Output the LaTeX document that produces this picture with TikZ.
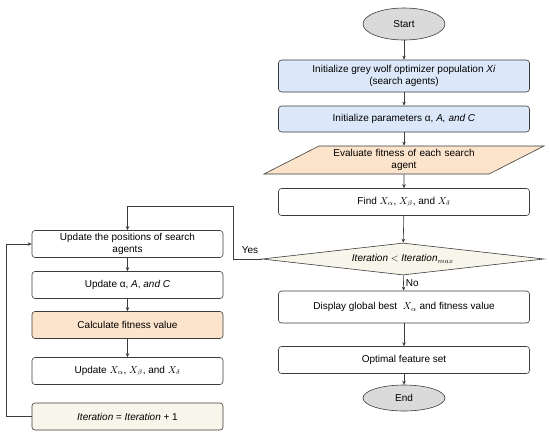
\documentclass[tikz,border=0pt]{standalone}
\usepackage{fontspec}
\setmainfont{Liberation Sans}
\usetikzlibrary{shapes.geometric,arrows.meta}

\definecolor{linha}{HTML}{3C3C3C}
\definecolor{azul}{HTML}{DCE8F9}
\definecolor{pessego}{HTML}{FCE3CB}
\definecolor{creme}{HTML}{F8F5EA}
\definecolor{cinza}{HTML}{DADADA}

\tikzset{
  caixa/.style={draw=linha, line width=0.6pt, rounded corners=3pt, align=center,
    minimum width=251pt, minimum height=27pt, inner sep=2pt},
  caixab/.style={caixa, minimum width=191pt},
  terminal/.style={ellipse, draw=linha, line width=0.6pt, fill=cinza,
    minimum width=82pt, minimum height=28pt, inner sep=0pt},
  seta/.style={draw=linha, line width=0.6pt, -{Stealth[length=4pt,width=3.5pt]}}
}

\begin{document}
\begin{tikzpicture}[x=1pt, y=-1pt, font=\fontsize{10}{12}\selectfont]
\useasboundingbox (0,0) rectangle (550,440);

% Coluna principal
\node[terminal, minimum height=32pt] (inicio) at (404,24) {Start};
\node[caixa, fill=azul, minimum height=32pt] (init) at (404,76)
  {Initialize grey wolf optimizer population \textit{Xi}\\(search agents)};
\node[caixa, fill=azul, minimum height=26pt] (param) at (404,119)
  {Initialize parameters α, \textit{A, and C}};
\node[trapezium, trapezium left angle=27, trapezium right angle=153,
  draw=linha, line width=0.6pt, fill=pessego, text width=150pt, align=center,
  minimum height=28pt, inner sep=2pt] (aval) at (404,160)
  {Evaluate fitness of each search\\agent};
\node[caixa] (achar) at (404,202) {Find $X_\alpha$, $X_\beta$, and $X_\delta$};
\node[diamond, aspect=8.8, draw=linha, line width=0.6pt, fill=creme,
  minimum width=282pt, minimum height=32pt, inner sep=0pt] (dec) at (403,259)
  {$\mathit{Iteration} < \mathit{Iteration}_{max}$};
\node[caixa, minimum height=32pt] (mostra) at (404,307)
  {Display global best \ $X_\alpha$ and fitness value};
\node[caixa] (otimo) at (404,360) {Optimal feature set};
\node[terminal, minimum height=26pt] (fim) at (404,398) {End};

\draw[seta] (inicio) -- (init);
\draw[seta] (init) -- (param);
\draw[seta] (param) -- (aval);
\draw[seta] (aval) -- (achar);
\draw[seta] (achar) -- (dec);
\draw[seta] (dec) -- node[right, inner sep=2pt] {No} (mostra);
\draw[seta] (mostra) -- (otimo);
\draw[seta] (otimo) -- (fim);

% Coluna de atualizacao
\node[caixab] (posicao) at (127.5,244) {Update the positions of search\\agents};
\node[caixab] (atualiza) at (127.5,285) {Update α, \textit{A}, \textit{and C}};
\node[caixab, fill=pessego] (calcula) at (127.5,325) {Calculate fitness value};
\node[caixab] (melhores) at (127.5,371) {Update $X_\alpha$, $X_\beta$, and $X_\delta$};
\node[caixab, fill=creme] (iter) at (127.5,416.5)
  {$\mathit{Iteration}$ = $\mathit{Iteration}$ + 1};

\draw[seta] (posicao) -- (atualiza);
\draw[seta] (atualiza) -- (calcula);
\draw[seta] (calcula) -- (melhores);

% Ramos
\coordinate (dobra) at (233,206);
\draw[seta] (dec.west) -| (dobra) -| (posicao.north);
\node (sim) at (250,250) {Yes};
\draw[seta] (iter.west) -- ++(-25,0) |- (posicao.west);
\end{tikzpicture}
\end{document}
